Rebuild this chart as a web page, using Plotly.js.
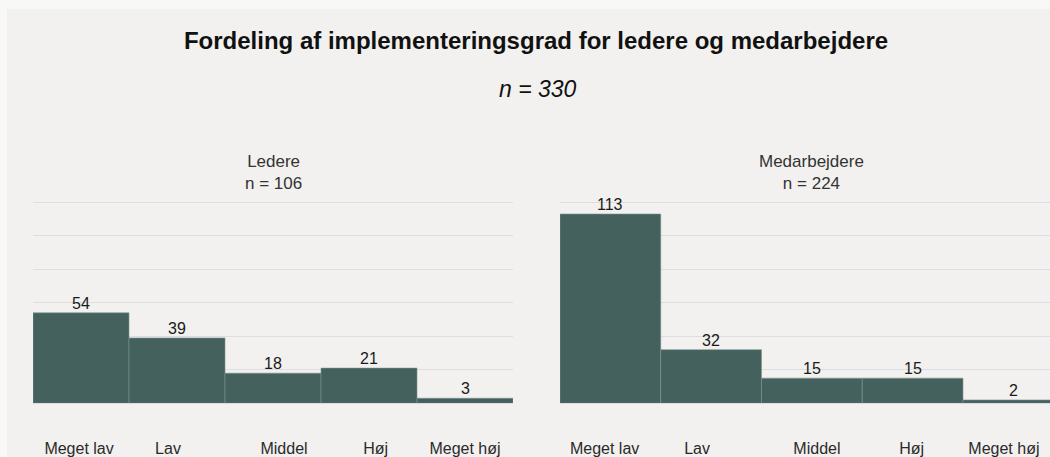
<!DOCTYPE html>
<html>
<head>
<meta charset="utf-8">
<script src="https://cdn.plot.ly/plotly-3.0.1.min.js"></script>
<style>
  html, body { margin: 0; padding: 0; background: #f8f8f7; width: 1050px; height: 457px; overflow: hidden; }
  #chart { position: absolute; left: 7px; top: 9px; width: 1043px; height: 448px; }
</style>
</head>
<body>
<div id="chart"></div>
<script>
// ---- Data ----
const categories = ["Meget lav", "Lav", "Middel", "Høj", "Meget høj"];
const ledereValues = [54, 39, 18, 21, 3];
const medarbejdereValues = [113, 32, 15, 15, 2];
const chartTitle = "Fordeling af implementeringsgrad for ledere og medarbejdere";
const chartSubtitle = "n = 330";
const panelNames = ["Ledere", "Medarbejdere"];
const panelN = [106, 224];
const yTicks = [0, 20, 40, 60, 80, 100, 120];

// ---- Layout / styling ----
const FONT = "Liberation Sans, Arial, sans-serif";
const barColor = "#44615e";
const idx = categories.map((c, i) => i + 1);
// label offsets relative to bar centres (as seen in the reference)
const leftLabelShift = [-0.02, -0.094, 0.115, 0.07, 0.0];
const rightLabelShift = [-0.057, -0.14, 0.05, -0.01, -0.094];

function barTrace(values, xa, ya) {
  return {
    type: "bar",
    x: idx,
    y: values,
    xaxis: xa,
    yaxis: ya,
    width: 1,
    marker: { color: barColor, line: { color: "#7d9492", width: 0.6 } },
    hoverinfo: "x+y",
    showlegend: false
  };
}

const traces = [
  barTrace(ledereValues, "x", "y"),
  barTrace(medarbejdereValues, "x2", "y2")
];

function valueLabels(values, xref, yref) {
  return values.map((v, i) => ({
    text: String(v),
    xref: xref, yref: yref,
    x: idx[i], y: v,
    xanchor: "center", yanchor: "middle",
    yshift: 9.5,
    showarrow: false,
    font: { family: FONT, size: 16, color: "#1a1a1a" }
  }));
}

const tickFont = { family: FONT, size: 16, color: "#2a2a2a" };
const yDomain = [0.1199, 0.5723];

const commonX = {
  showgrid: false,
  zeroline: false,
  showline: false,
  ticks: "",
  tickfont: tickFont,
  ticklabelstandoff: 34,
  fixedrange: true
};
const commonY = {
  range: [0, 121],
  domain: yDomain,
  tickvals: yTicks,
  showticklabels: false,
  showgrid: true,
  gridcolor: "#dcdee0",
  gridwidth: 1,
  zeroline: false,
  showline: false,
  ticks: ""
};

const layout = {
  width: 1043,
  height: 448,
  margin: { l: 0, r: 0, t: 0, b: 0, pad: 0 },
  paper_bgcolor: "#f2f1ef",
  plot_bgcolor: "rgba(0,0,0,0)",
  bargap: 0,
  title: {
    text: "<b>" + chartTitle + "</b>",
    font: { family: FONT, size: 24, color: "#111" },
    xref: "container", yref: "container",
    x: 0.5072, y: 0.9286, xanchor: "center", yanchor: "middle"
  },
  xaxis: Object.assign({}, commonX, {
    domain: [0.02493, 0.48514],
    range: [0.5, 5.5],
    tickvals: idx.map((v, i) => v + leftLabelShift[i]),
    ticktext: categories,
    anchor: "y"
  }),
  yaxis: Object.assign({}, commonY, { anchor: "x" }),
  xaxis2: Object.assign({}, commonX, {
    domain: [0.5302, 1],
    range: [0.5, 5.3635],
    tickvals: idx.map((v, i) => v + rightLabelShift[i]),
    ticktext: categories,
    anchor: "y2"
  }),
  yaxis2: Object.assign({}, commonY, { anchor: "x2" }),
  annotations: [
    {
      text: "<i>" + chartSubtitle + "</i>",
      xref: "paper", yref: "paper",
      x: 0.5091, y: 1 - 80 / 448, xanchor: "center", yanchor: "middle",
      showarrow: false,
      font: { family: FONT, size: 23, color: "#111" }
    },
    {
      text: panelNames[0] + "<br>n = " + panelN[0],
      xref: "x", yref: "paper",
      x: 3, y: 1 - 163.5 / 448, xanchor: "center", yanchor: "middle",
      showarrow: false,
      font: { family: FONT, size: 17, color: "#333" }
    },
    {
      text: panelNames[1] + "<br>n = " + panelN[1],
      xref: "x2", yref: "paper",
      x: 3, y: 1 - 163.5 / 448, xanchor: "center", yanchor: "middle",
      showarrow: false,
      font: { family: FONT, size: 17, color: "#333" }
    }
  ].concat(valueLabels(ledereValues, "x", "y"), valueLabels(medarbejdereValues, "x2", "y2"))
};

Plotly.newPlot("chart", traces, layout, { displayModeBar: false, staticPlot: true });
</script>
</body>
</html>
